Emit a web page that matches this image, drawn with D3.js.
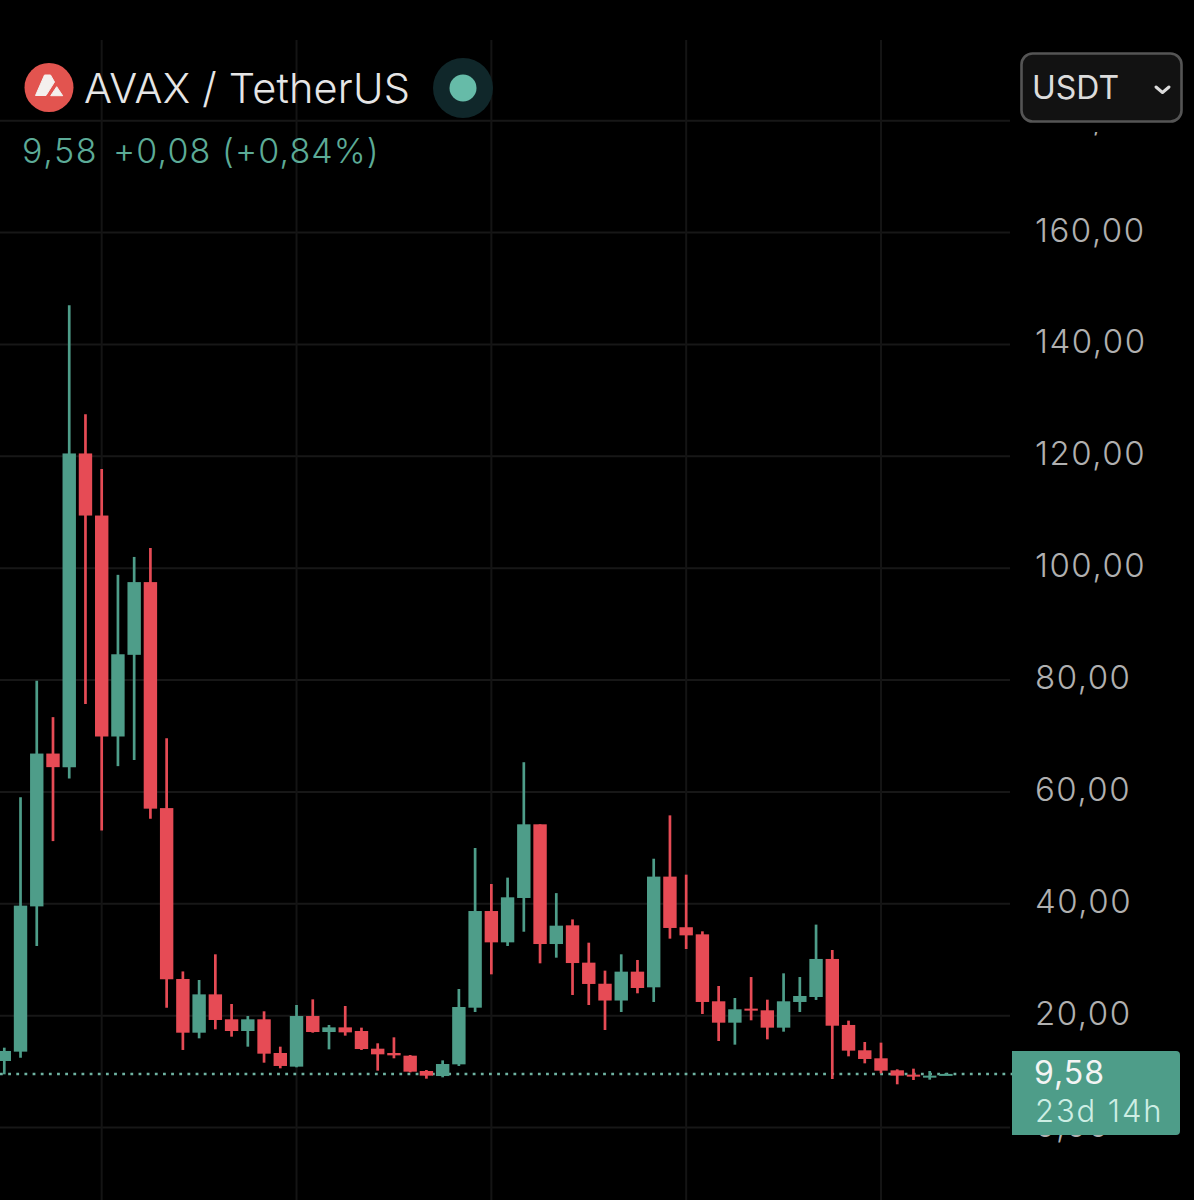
<!DOCTYPE html>
<html><head><meta charset="utf-8">
<script src="https://cdn.jsdelivr.net/npm/d3@7/dist/d3.min.js"></script>
<style>html,body{margin:0;padding:0;background:#000;overflow:hidden}svg{display:block}text{font-family:Inter,Roboto,sans-serif}</style>
</head><body><div id="chart"></div>
<script>
const opens =[11.89,13.56,39.53,66.85,64.4,120.5,109.4,69.9,84.5,97.5,57.1,26.55,16.95,23.8,19.34,17.25,19.34,13.32,10.88,19.93,17.07,17.9,17.25,14.09,13.32,12.84,10.1,9.2,11.29,21.42,38.7,33.1,41.03,54.2,32.8,36.14,29.47,25.7,22.7,27.86,25.06,44.85,35.8,34.53,22.56,18.74,21.25,20.95,17.85,22.44,23.33,30.13,18.33,13.8,12.37,10.22,9.45,8.97,9.45];
const highs =[14.27,59.03,79.87,73.36,147,127.5,117.7,98.8,102,103.6,69.6,27.9,26.37,30.96,22.08,19.93,20.77,14.45,21.9,22.91,18.33,21.72,17.85,15.05,16.12,12.96,10.28,12,24.76,49.97,43.53,44.67,65.3,54.2,41.9,37.2,33.04,28.04,30.96,29.95,48.05,55.8,45.2,35.07,25.3,23.15,26.9,22.85,27.56,26.9,36.27,31.73,19.1,15.29,15.17,10.4,10.52,10.1,9.75];
const lows  =[9.5,12.48,32.45,51.2,62.4,75.7,53.1,64.6,65.7,55.2,21.4,13.86,15.94,17.55,16.24,14.45,11.59,10.58,10.76,16.95,13.97,16.42,13.86,10.16,12.37,9.86,8.73,8.97,11,20.65,27.38,32.45,35,29.35,30.36,23.69,21.9,17.43,20.65,23.99,22.44,33.76,31.91,20.29,15.46,14.81,19.16,15.76,17.13,20.65,22.8,8.67,12.72,11.47,9.68,7.72,8.49,8.55,9.39];
const closes=[13.68,39.66,66.85,64.42,120.5,109.4,69.9,84.6,97.5,57,26.5,16.95,23.8,19.22,17.25,19.34,13.2,11,19.93,17.07,17.9,17.01,14.03,13.08,12.9,9.98,9.27,11.35,21.54,38.7,33.1,41.15,54.2,32.8,36.08,29.4,25.66,22.7,27.86,24.94,44.85,35.67,34.35,22.44,18.74,21.13,20.89,17.85,22.56,23.51,30.13,18.2,13.74,12.25,10.16,9.27,9.09,9.27,9.58];
const priceTicks=[0,20,40,60,80,100,120,140,160,180];
const timeTickIndexes=[6,18,30,42,54];
const lastPrice=9.58;
const titleText="AVAX / TetherUS", quoteText="9,58", changeText="+0,08 (+0,84%)", currencyText="USDT", countdownText="23d 14h";

const W=1194,H=1200, GREEN="#4e9d89", RED="#e64b55";
const x=d3.scaleLinear().domain([6,54]).range([101.7,881]);
const y=d3.scaleLinear().domain([0,160]).range([1127.5,232.5]);
const bodyW=13.4, wickW=2.7;
const svg=d3.select("#chart").append("svg").attr("width",W).attr("height",H).style("background","#000");
const fmt=d3.formatLocale({decimal:",",thousands:".",grouping:[3],currency:["",""]}).format(".2f");

// grid
svg.append("g").selectAll("line").data(priceTicks).join("line")
  .attr("x1",0).attr("x2",1010).attr("y1",d=>y(d)).attr("y2",d=>y(d))
  .attr("stroke","#171717").attr("stroke-width",2);
svg.append("g").selectAll("line").data(timeTickIndexes).join("line")
  .attr("x1",d=>x(d)).attr("x2",d=>x(d)).attr("y1",40).attr("y2",H)
  .attr("stroke","#141414").attr("stroke-width",2);

// price axis
const ax=svg.append("g").attr("transform","translate(1035,-2)")
  .call(d3.axisRight(y).tickValues(priceTicks).tickSize(0).tickPadding(0).tickFormat(fmt));
ax.select(".domain").remove();
ax.selectAll("text").attr("fill","#b0b0b0").style("font-family","Inter,Roboto,sans-serif").style("font-size","33px").style("font-weight",300).style("letter-spacing","1.5px");
// the header band hides all but the tail of the topmost label
svg.append("rect").attr("x",1012).attr("y",40).attr("width",182).attr("height",92).attr("fill","#000");

// last price line
svg.append("line").attr("x1",0).attr("x2",1012).attr("y1",y(lastPrice)).attr("y2",y(lastPrice))
  .attr("stroke","#6fb3a2").attr("stroke-width",2.5).attr("stroke-dasharray","2.8 5.35");

// candles
const idx=d3.range(opens.length);
const colour=i=>closes[i]>=opens[i]?GREEN:RED;
const c=svg.append("g");
c.selectAll("line").data(idx).join("line")
  .attr("x1",i=>x(i)).attr("x2",i=>x(i)).attr("y1",i=>y(highs[i])).attr("y2",i=>y(lows[i]))
  .attr("stroke",colour).attr("stroke-width",wickW);
c.selectAll("rect").data(idx).join("rect")
  .attr("x",i=>x(i)-bodyW/2).attr("width",bodyW)
  .attr("y",i=>y(Math.max(opens[i],closes[i])))
  .attr("height",i=>Math.max(2,Math.abs(y(opens[i])-y(closes[i]))))
  .attr("fill",colour);

// header
svg.append("circle").attr("cx",49).attr("cy",87.5).attr("r",24.5).attr("fill","#e2544f");
svg.append("path").attr("d","M44.5 75 L50.5 75 L54.5 82 L46 95.5 L35.5 95.5 Z M56.7 86.7 L62.7 95.7 L50.7 95.7 Z").attr("fill","#f4f0ee").attr("stroke","#f4f0ee").attr("stroke-width",1).attr("stroke-linejoin","round");
svg.append("text").attr("x",84).attr("y",103).attr("font-size",41.5).attr("font-weight",300).attr("letter-spacing","0.2px").attr("fill","#e6e6e6").text(titleText);
svg.append("circle").attr("cx",463).attr("cy",88).attr("r",30).attr("fill","#10272a");
svg.append("circle").attr("cx",463).attr("cy",88).attr("r",13.5).attr("fill","#66bba8");
svg.append("text").attr("x",22).attr("y",163).attr("font-size",34).attr("font-weight",300).attr("letter-spacing","1.6px").attr("fill","#5cab97").text(quoteText);
svg.append("text").attr("x",113).attr("y",163).attr("font-size",34).attr("font-weight",300).attr("letter-spacing","1.1px").attr("fill","#5cab97").text(changeText);

// currency box
svg.append("rect").attr("x",1021.5).attr("y",53.5).attr("width",160).attr("height",68).attr("rx",11).attr("fill","#121212").attr("stroke","#555").attr("stroke-width",2.6);
svg.append("text").attr("x",1032).attr("y",99).attr("font-size",32).attr("font-weight",400).attr("fill","#dcdcdc").text(currencyText);
svg.append("path").attr("d","M1156 87 L1162.5 92.5 L1169 87").attr("fill","none").attr("stroke","#dcdcdc").attr("stroke-width",3).attr("stroke-linecap","round").attr("stroke-linejoin","round");

// last price badge
svg.append("path").attr("d","M1012 1051 H1176 Q1180 1051 1180 1055 V1131 Q1180 1135 1176 1135 H1012 Z").attr("fill",GREEN);
svg.append("text").attr("x",1034).attr("y",1084).attr("font-size",32).attr("font-weight",400).attr("letter-spacing","1px").attr("fill","#f4f4f4").text(quoteText);
svg.append("text").attr("x",1035).attr("y",1122).attr("font-size",31).attr("font-weight",300).attr("letter-spacing","1.9px").attr("fill","#cdeee4").text(countdownText);
</script></body></html>
